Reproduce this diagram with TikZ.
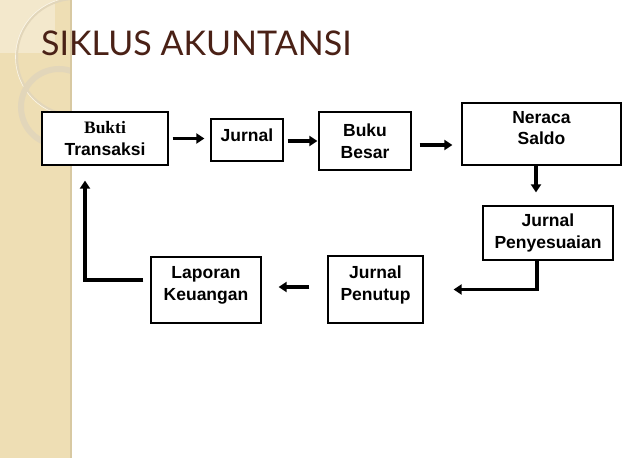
\documentclass[tikz,border=0pt]{standalone}
\usepackage{fontspec}
\setmainfont{Liberation Sans}
\newfontfamily\titlefont{Lato}
\newfontfamily\timesfont{Liberation Serif}
\usetikzlibrary{arrows.meta,calc}
\definecolor{strip}{HTML}{EEDEB4}
\definecolor{striplight}{HTML}{F3E8CC}
\definecolor{stripedge}{HTML}{D8C9A2}
\definecolor{arcline}{HTML}{E2D6BA}
\definecolor{titlecol}{HTML}{4A2116}
\begin{document}
\begin{tikzpicture}[x=1pt,y=-1pt,
  box/.style={draw=black,line width=1.3pt,fill=white,align=center,
    font=\fontsize{17.5}{21.5}\selectfont\bfseries,inner sep=0pt},
  arr/.style={line width=3.2pt,-{Triangle[length=8pt,width=10pt]}},
  titletext/.style={font=\titlefont\fontsize{34}{36}\selectfont,anchor=base west,inner sep=0pt}]
\useasboundingbox (0,0) rectangle (638,458);
\fill[white] (0,0) rectangle (638,458);
\fill[strip] (0,0) rectangle (70,458);
\begin{scope}
  \clip (0,0) rectangle (70,458);
  \fill[striplight] (0,0) rectangle (55,53);
  \draw[arcline,line width=2pt] (75,57) circle[radius=58];
  \draw[white!70!strip,line width=0.6pt] (75,57) circle[radius=59.5];
  \draw[arcline,line width=6pt] (59,107) circle[radius=38];
\end{scope}
\fill[stripedge] (69.5,0) rectangle (72,458);

% title
\node[titletext,text=titlecol] (title) at (41,55) {SIKLUS AKUNTANSI};

% boxes
\node[box,minimum width=126,minimum height=53] (bukti) at (105,138.5) {{\timesfont\bfseries Bukti}\\Transaksi};
\node[box,minimum width=72,minimum height=42,text depth=10pt] (jurnal) at (247,140) {Jurnal};
\node[box,minimum width=92,minimum height=58] (buku) at (365,141) {Buku\\Besar};
\node[box,minimum width=159,minimum height=62,text depth=12pt] (neraca) at (541.5,134) {Neraca\\Saldo};
\node[box,minimum width=130,minimum height=54] (jp) at (548,233) {Jurnal\\Penyesuaian};
\node[box,minimum width=95,minimum height=67,text depth=13pt] (penutup) at (375.5,289.5) {Jurnal\\Penutup};
\node[box,minimum width=110,minimum height=66,text depth=13pt] (laporan) at (206,290) {Laporan\\Keuangan};

% connectors
\draw[arr,shorten <=4pt,shorten >=6pt] (bukti.east) -- (bukti.east -| jurnal.west);
\draw[arr,shorten <=4pt,shorten >=1pt] (jurnal.east |- buku.west) -- (buku.west);
\coordinate (c3) at ([yshift=-4pt]buku.east);
\draw[arr,shorten <=8pt,shorten >=9pt] (c3) -- (c3 -| neraca.west);
\coordinate (c4) at ([xshift=-5.5pt]neraca.south);
\draw[arr,shorten >=13pt] (c4) -- (c4 |- jp.north);
\coordinate (c5) at ([xshift=-11pt]jp.south);
\draw[arr,shorten >=30pt] (c5) |- (penutup.east);
\coordinate (c6) at ([yshift=2.5pt]penutup.west);
\draw[arr,shorten <=18pt,shorten >=17pt] (c6) -- (c6 -| laporan.east);
\coordinate (c7) at ([yshift=10pt]laporan.west);
\coordinate (c7b) at ([xshift=-20pt]bukti.south);
\draw[arr,shorten <=7pt,shorten >=15pt] (c7) -| (c7b);
\end{tikzpicture}
\end{document}
